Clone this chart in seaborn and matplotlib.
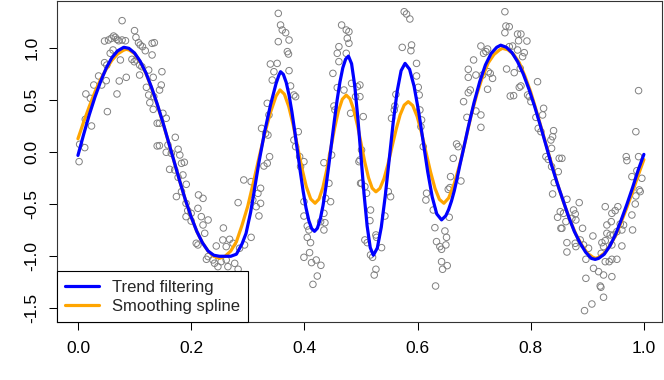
import numpy as np
import pandas as pd
import matplotlib
matplotlib.use("Agg")
import matplotlib.pyplot as plt
import seaborn as sns
from matplotlib.lines import Line2D

# ---------------- data ----------------
obs_x = [
    0.078, 0.100, 0.047, 0.054, 0.059, 0.063, 0.066, 0.069, 0.072, 0.078, 0.084,
    0.1025, 0.107, 0.110, 0.114, 0.119, 0.131, 0.135, 0.057, 0.062, 0.075, 0.0954,
    0.0995, 0.103, 0.047, 0.051, 0.109, 0.113, 0.125, 0.131, 0.0365, 0.050, 0.042,
    0.028, 0.073, 0.0854, 0.109, 0.121, 0.133, 0.014, 0.022, 0.069, 0.125, 0.127,
    0.134, 0.052, 0.133, 0.140, 0.013, 0.024, 0.003, 0.012, 0.002, 0.140,
    0.1484, 0.1472, 0.1442, 0.1501, 0.156, 0.144, 0.172, 0.159, 0.144, 0.156, 0.165,
    0.177, 0.180, 0.183, 0.188, 0.162, 0.171, 0.177, 0.1855, 0.1914, 0.183, 0.174,
    0.213, 0.221, 0.191, 0.194, 0.200, 0.212, 0.218, 0.230, 0.191, 0.200, 0.221,
    0.209, 0.212, 0.224, 0.257, 0.2444, 0.256, 0.262, 0.268, 0.274, 0.283, 0.293,
    0.306, 0.306, 0.2944, 0.2856, 0.230, 0.227, 0.2385, 0.2414, 0.2473, 0.253, 0.262,
    0.265, 0.277, 0.283, 0.284, 0.268, 0.309, 0.318, 0.315,
    0.354, 0.358, 0.361, 0.367, 0.354, 0.373, 0.370, 0.372, 0.340, 0.352, 0.3463,
    0.373, 0.3433, 0.3345, 0.3375, 0.3245, 0.3357, 0.3316, 0.3386, 0.3345, 0.3286,
    0.3227, 0.3227, 0.3198, 0.3757, 0.3816, 0.3846, 0.3893, 0.3816, 0.3846, 0.3917,
    0.3993, 0.3934, 0.3993, 0.3993, 0.4052, 0.4081, 0.4052, 0.411, 0.3993, 0.4093,
    0.4128, 0.421, 0.4293, 0.4229, 0.4152, 0.4288, 0.4364, 0.4346, 0.4346, 0.4376,
    0.4464, 0.4435, 0.4346, 0.4482, 0.4541, 0.4523, 0.4582, 0.4505, 0.4611, 0.4582,
    0.4611, 0.4659, 0.4741, 0.4788, 0.4759, 0.4788, 0.4741, 0.470, 0.4835, 0.4818,
    0.4906, 0.4935, 0.4965, 0.4994,
    0.5765, 0.5806, 0.5865, 0.573, 0.5895, 0.5883, 0.5983, 0.5983, 0.6013, 0.603,
    0.5618, 0.560, 0.5589, 0.5541, 0.5041, 0.4982, 0.4982, 0.6042, 0.6072, 0.606,
    0.6101, 0.5011, 0.4982, 0.5011, 0.507, 0.510, 0.5483, 0.5524, 0.517, 0.5159,
    0.5424, 0.507, 0.5112, 0.5265, 0.5276, 0.5365, 0.517, 0.5206, 0.5265, 0.5235,
    0.616, 0.6148, 0.6278, 0.6307, 0.6336, 0.6395, 0.6425, 0.6484, 0.6513, 0.6501,
    0.6425, 0.6443, 0.6525, 0.6319, 0.656, 0.6584, 0.6543, 0.6572, 0.6631, 0.669,
    0.6719,
    0.7544, 0.7562, 0.7621, 0.7544, 0.7768, 0.7827, 0.7786, 0.7933, 0.712, 0.7238,
    0.7167, 0.7209, 0.7621, 0.768, 0.7768, 0.7886, 0.7857, 0.6991, 0.6897, 0.6897,
    0.7032, 0.715, 0.725, 0.7285, 0.7326, 0.7238, 0.7574, 0.7709, 0.7815, 0.8121,
    0.7827, 0.7798, 0.6932, 0.6897, 0.6814, 0.7032, 0.712, 0.6873, 0.712, 0.7639,
    0.7698, 0.7945, 0.7974, 0.8004, 0.8228, 0.821, 0.8092, 0.8133, 0.818, 0.8404,
    0.8387, 0.8357, 0.8369, 0.8269, 0.831, 0.8369, 0.8504, 0.8487, 0.8416, 0.8387,
    0.8522, 0.8475, 0.8534, 0.6767,
    0.8551, 0.9906, 0.9858, 0.9688, 0.970, 0.9906, 0.9876, 0.9964, 0.9788, 0.9917,
    0.9935, 0.9858, 0.9847, 0.9788, 0.980, 0.864, 0.8857, 0.8757, 0.8787, 0.8728,
    0.858, 0.8622, 0.8798, 0.8551, 0.8916, 0.9317, 0.9434, 0.9493, 0.954, 0.9423,
    0.9346, 0.9582, 0.9611, 0.9641, 0.9523, 0.9346, 0.9405, 0.9464, 0.9317, 0.9258,
    0.9246, 0.9287, 0.9434, 0.9611, 0.864, 0.864, 0.8787, 0.8798, 0.8875, 0.8934,
    0.9022, 0.9099, 0.8975, 0.9317, 0.9387, 0.9434, 0.9523, 0.911, 0.9199, 0.9287,
    0.9434, 0.8975, 0.9228, 0.924, 0.9287, 0.9081, 0.8951,
]
obs_y = [
    1.266, 1.170, 1.070, 1.080, 1.096, 1.118, 1.105, 1.086, 1.073, 1.080, 1.073,
    1.105, 1.054, 1.032, 1.016, 0.977, 1.048, 1.054, 0.952, 0.984, 0.888, 0.894,
    0.871, 0.888, 0.862, 0.839, 0.839, 0.823, 0.791, 0.936, 0.734, 0.689, 0.647,
    0.647, 0.686, 0.721, 0.743, 0.625, 0.721, 0.561, 0.519, 0.561, 0.551, 0.477,
    0.535, 0.391, 0.413, 0.279, 0.317, 0.253, 0.077, 0.045, -0.090, 0.061,
    0.775, 0.647, 0.599, 0.375, 0.327, 0.279, 0.144, 0.070, 0.064, 0.000, -0.010,
    0.029, -0.026, -0.106, -0.096, -0.164, -0.170, -0.241, -0.218, -0.308, -0.378, -0.426,
    -0.410, -0.443, -0.491, -0.561, -0.587, -0.539, -0.619, -0.651, -0.619, -0.661, -0.699,
    -0.875, -0.891, -0.779, -0.728, -0.901, -0.843, -0.907, -0.837, -0.875, -0.484, -0.266,
    -0.282, -0.818, -0.891, -0.923, -1.003, -1.029, -1.035, -1.067, -1.100, -1.052, -1.035,
    -1.100, -1.068, -1.125, -1.190, -1.244, -0.459, -0.395, -0.523,
    1.336, 1.224, 1.176, 1.150, 1.064, 1.080, 0.968, 0.945, 0.849, 0.855, 0.775,
    0.785, 0.695, 0.471, 0.359, 0.230, 0.166, 0.182, -0.042, -0.106, -0.132,
    -0.346, -0.491, -0.612, 0.638, 0.551, 0.535, 0.198, 0.118, 0.054, -0.042,
    -0.090, -0.138, -0.475, -0.613, -0.709, -0.747, -0.818, -0.869, -1.010, -0.965,
    -1.061, -1.036, -1.087, -1.190, -1.270, -0.667, -0.677, -0.747, -0.587, -0.443,
    -0.475, -0.298, -0.100, -0.026, 0.407, 0.445, 0.622, 0.759, 0.872, 0.952,
    1.016, 1.224, 1.176, 1.160, 1.096, 1.048, 0.952, 0.599, 0.663, 0.375,
    0.535, 0.631, -0.090, -0.298,
    1.352, 1.330, 1.282, 1.009, 1.032, 0.977, 0.855, 0.734, 0.625, 0.551,
    0.557, 0.445, 0.407, 0.327, 0.343, 0.647, 0.535, 0.407, 0.311, 0.246,
    0.054, 0.022, -0.074, -0.298, -0.330, -0.394, -0.378, -0.427, -0.555, -0.657,
    -0.613, -0.843, -0.869, -0.795, -0.818, -0.917, -0.987, -1.010, -1.125, -1.180,
    -0.394, -0.459, -0.555, -0.725, -0.859, -0.907, -0.933, -0.757, -0.818, -0.891,
    -1.052, -1.125, -1.090, -1.286, -0.625, -0.234, -0.356, -0.340, -0.058, 0.080,
    0.054,
    1.352, 1.214, 1.208, 1.150, 1.137, 1.137, 1.073, 1.070, 1.022, 0.993,
    0.952, 0.968, 1.016, 1.022, 0.984, 0.958, 0.920, 0.888, 0.798, 0.721,
    0.743, 0.743, 0.775, 0.759, 0.711, 0.606, 0.801, 0.766, 0.807, 0.679,
    0.638, 0.625, 0.599, 0.573, 0.487, 0.397, 0.359, 0.336, 0.240, 0.541,
    0.545, 0.551, 0.535, 0.487, 0.423, 0.359, 0.336, 0.230, 0.198, 0.208,
    0.150, 0.118, 0.038, -0.042, -0.068, -0.138, -0.058, -0.186, -0.292, -0.401,
    -0.571, -0.625, -0.731, -0.276,
    -0.058, 0.593, 0.198, -0.042, -0.080, -0.042, -0.177, -0.250, -0.234, -0.362,
    -0.378, -0.420, -0.497, -0.603, -0.747, -0.452, -0.484, -0.555, -0.593, -0.635,
    -0.587, -0.667, -0.651, -0.731, -0.731, -0.523, -0.587, -0.561, -0.523, -0.667,
    -0.699, -0.690, -0.747, -0.699, -0.763, -0.779, -0.795, -0.795, -0.850, -0.869,
    -0.972, -0.907, -0.891, -0.901, -0.869, -0.959, -0.875, -0.907, -0.843, -0.891,
    -0.923, -0.805, -1.029, -1.052, -1.052, -1.029, -1.029, -1.116, -1.148, -1.180,
    -1.196, -1.212, -1.286, -1.298, -1.394, -1.459, -1.523,
]

tf_x = [0.00, 0.01, 0.02, 0.03, 0.04, 0.05, 0.06, 0.07, 0.081, 0.09, 0.10, 0.11, 0.12,
        0.13, 0.14, 0.15, 0.16, 0.17, 0.18, 0.19, 0.20, 0.21, 0.22, 0.23, 0.24, 0.25,
        0.26, 0.27, 0.28, 0.29, 0.297, 0.305, 0.31, 0.32, 0.33, 0.34, 0.35, 0.355, 0.358,
        0.363, 0.368, 0.373, 0.378, 0.383, 0.388, 0.393, 0.398, 0.403, 0.408, 0.413, 0.418,
        0.423, 0.428, 0.433, 0.438, 0.443, 0.448, 0.453, 0.458, 0.463, 0.468, 0.473, 0.478,
        0.4835, 0.489, 0.4945, 0.500, 0.5055, 0.511, 0.5165, 0.522,
        0.529, 0.536, 0.543, 0.550, 0.557, 0.564, 0.571, 0.578,
        0.586, 0.594, 0.602, 0.610, 0.618, 0.626, 0.634, 0.6425,
        0.65, 0.655, 0.66, 0.665, 0.67, 0.675, 0.68, 0.69, 0.70, 0.71, 0.72, 0.73, 0.74,
        0.747, 0.757, 0.767, 0.777, 0.787, 0.797, 0.807, 0.817, 0.827, 0.837, 0.847,
        0.857, 0.867, 0.877, 0.887, 0.897, 0.907, 0.914, 0.92, 0.93, 0.94, 0.95, 0.96,
        0.97, 0.98, 0.99, 1.00]
tf_y = [-0.03, 0.17, 0.36, 0.53, 0.68, 0.81, 0.91, 0.975, 1.01, 1.0, 0.955, 0.875, 0.765,
        0.625, 0.465, 0.29, 0.10, -0.09, -0.28, -0.46, -0.62, -0.76, -0.87, -0.95, -0.99, -1.0,
        -1.0, -1.0, -0.98, -0.88, -0.78, -0.58, -0.42, -0.09, 0.20, 0.45, 0.66, 0.74, 0.775,
        0.749, 0.672, 0.55, 0.391, 0.206, 0.008, -0.191, -0.376, -0.535, -0.657, -0.734, -0.76,
        -0.731, -0.647, -0.513, -0.339, -0.136, 0.083, 0.301, 0.504, 0.678, 0.812, 0.896, 0.925,
        0.852, 0.644, 0.334, -0.033, -0.399, -0.709, -0.917, -0.99,
        -0.92, -0.72, -0.42, -0.068, 0.286, 0.585, 0.785, 0.855,
        0.798, 0.634, 0.391, 0.103, -0.186, -0.43, -0.593, -0.65,
        -0.61, -0.55, -0.47, -0.37, -0.25, -0.12, 0.0, 0.25, 0.48, 0.68, 0.84, 0.95, 1.01,
        1.03, 1.01, 0.958, 0.87, 0.752, 0.606, 0.441, 0.259, 0.068, -0.126, -0.30,
        -0.46, -0.62, -0.76, -0.87, -0.96, -1.02, -1.03, -1.02, -0.98, -0.90, -0.79, -0.65,
        -0.50, -0.34, -0.17, -0.02]

ss_x = [0.00, 0.01, 0.02, 0.03, 0.04, 0.05, 0.06, 0.07, 0.08, 0.085, 0.09, 0.10, 0.11,
        0.12, 0.13, 0.14, 0.15, 0.16, 0.17, 0.18, 0.19, 0.20, 0.21, 0.22, 0.23, 0.24, 0.25,
        0.26, 0.27, 0.28, 0.29, 0.30, 0.31, 0.32, 0.33, 0.34, 0.35, 0.357,
        0.3648, 0.3725, 0.3803, 0.388, 0.3958, 0.4035, 0.4113, 0.419,
        0.4259, 0.4328, 0.4396, 0.4465, 0.4534, 0.4603, 0.4671, 0.474,
        0.4806, 0.4871, 0.4937, 0.5003, 0.5068, 0.5134, 0.5199, 0.5265,
        0.5336, 0.5408, 0.5479, 0.555, 0.5622, 0.5693, 0.5765, 0.5836,
        0.5915, 0.5994, 0.6072, 0.6151, 0.623, 0.6309, 0.6387, 0.6466,
        0.655, 0.665, 0.675, 0.685, 0.695, 0.705, 0.715, 0.725, 0.735, 0.745, 0.75,
        0.76, 0.77, 0.78, 0.79, 0.80, 0.81, 0.82, 0.83, 0.84, 0.85, 0.86, 0.87, 0.88,
        0.89, 0.90, 0.91, 0.915, 0.92, 0.93, 0.94, 0.95, 0.96, 0.97, 0.98, 0.99, 1.00]
ss_y = [0.13, 0.29, 0.44, 0.58, 0.70, 0.80, 0.885, 0.945, 0.98, 0.99, 0.985, 0.95, 0.87,
        0.76, 0.62, 0.46, 0.285, 0.10, -0.09, -0.28, -0.46, -0.62, -0.76, -0.87, -0.95, -1.0, -1.02,
        -1.0, -0.95, -0.86, -0.70, -0.52, -0.29, -0.05, 0.18, 0.38, 0.54, 0.60,
        0.559, 0.44, 0.264, 0.055, -0.154, -0.33, -0.449, -0.49,
        -0.45, -0.338, -0.169, 0.03, 0.229, 0.398, 0.51, 0.55,
        0.515, 0.414, 0.263, 0.085, -0.093, -0.244, -0.345, -0.38,
        -0.347, -0.253, -0.112, 0.054, 0.219, 0.36, 0.454, 0.487,
        0.45, 0.344, 0.185, -0.002, -0.188, -0.347, -0.453, -0.49,
        -0.44, -0.30, -0.11, 0.12, 0.36, 0.56, 0.73, 0.86, 0.94, 0.985, 1.0,
        0.985, 0.94, 0.86, 0.73, 0.58, 0.40, 0.21, 0.02, -0.17, -0.35, -0.51, -0.66, -0.79,
        -0.89, -0.97, -1.01, -1.02, -1.01, -0.97, -0.90, -0.80, -0.67, -0.53, -0.38, -0.22, -0.07]

x_ticks = [0.0, 0.2, 0.4, 0.6, 0.8, 1.0]
y_ticks = [-1.5, -1.0, -0.5, 0.0, 0.5, 1.0]
series_labels = ["Trend filtering", "Smoothing spline"]
series_colors = ["#0000FF", "#FFA500"]

# ---------------- plot ----------------
sns.set_theme(style="white")
plt.rcParams["font.family"] = ["Liberation Sans", "DejaVu Sans"]
plt.rcParams["axes.unicode_minus"] = False

fig = plt.figure(figsize=(6.64, 3.8), dpi=100)
ax = fig.add_axes([57 / 664, (380 - 322.3) / 380, (662 - 57) / 664, 321.3 / 380])

pts = pd.DataFrame({"x": obs_x, "y": obs_y})
sns.scatterplot(data=pts, x="x", y="y", ax=ax, marker="o", s=22,
                color="#808080", facecolor="none", edgecolor="#808080",
                linewidth=0.7, zorder=2)

ss = pd.DataFrame({"x": ss_x, "y": ss_y})
tf = pd.DataFrame({"x": tf_x, "y": tf_y})
sns.lineplot(data=ss, x="x", y="y", ax=ax, color=series_colors[1], lw=2.3,
             sort=False, estimator=None, zorder=3)
sns.lineplot(data=tf, x="x", y="y", ax=ax, color=series_colors[0], lw=2.3,
             sort=False, estimator=None, zorder=4)

ax.set_xlim(-0.037, 1.032)
ax.set_ylim(-1.635, 1.455)
ax.set_xticks(x_ticks)
ax.set_xticklabels([f"{v:.1f}" for v in x_ticks])
ax.set_yticks(y_ticks)
ax.set_yticklabels([f"{v:.1f}" for v in y_ticks], rotation=90, va="center")
ax.set_xlabel("")
ax.set_ylabel("")
ax.tick_params(axis="both", direction="out", length=5.5, width=0.75,
               color="black", labelcolor="black", labelsize=12.5,
               bottom=True, left=True)
ax.tick_params(axis="x", pad=8)
ax.tick_params(axis="y", pad=7)
for sp in ax.spines.values():
    sp.set_visible(True)
    sp.set_color("#333333")
    sp.set_linewidth(0.8)

handles = [Line2D([0], [0], color=c, lw=2.3) for c in series_colors]
leg = ax.legend(handles, series_labels, loc="lower left", borderaxespad=0,
                fontsize=12, frameon=True, fancybox=False, framealpha=1,
                edgecolor="black", handlelength=2.0, handletextpad=0.8,
                labelspacing=0.25, borderpad=0.5)
leg.get_frame().set_linewidth(0.8)

fig.savefig("out.png", dpi=100)
